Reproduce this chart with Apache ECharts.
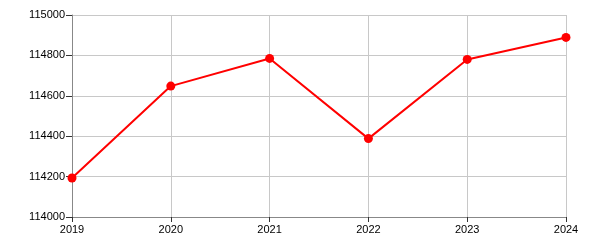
<!DOCTYPE html>
<html><head><meta charset="utf-8">
<script src="https://cdn.jsdelivr.net/npm/echarts@6/dist/echarts.min.js"></script>
<style>html,body{margin:0;padding:0;background:#fff}#c{width:600px;height:250px}</style>
</head><body><div id="c"></div>
<script>
const categories = ['2019','2020','2021','2022','2023','2024'];
const values = [114193, 114648, 114785, 114388, 114780, 114889];
const yTicks = [114000, 114200, 114400, 114600, 114800, 115000];

const chart = echarts.init(document.getElementById('c'), null, {renderer:'canvas'});
chart.setOption({
  animation:false,
  grid:{left:72, right:34, top:15, bottom:33, containLabel:false},
  xAxis:{
    type:'category', data:categories, boundaryGap:false,
    axisLine:{lineStyle:{color:'#888', width:1}},
    axisTick:{show:true, length:5, lineStyle:{color:'#333'}, alignWithLabel:true},
    axisLabel:{color:'#000', fontFamily:'Liberation Sans, Arial', fontSize:11, margin:7},
    splitLine:{show:true, lineStyle:{color:'#c8c8c8', width:1}}
  },
  yAxis:{
    type:'value', min:yTicks[0], max:yTicks[yTicks.length-1], interval:200,
    axisLine:{show:true, lineStyle:{color:'#888', width:1}},
    axisTick:{show:true, length:6, lineStyle:{color:'#333'}},
    axisLabel:{color:'#000', fontFamily:'Liberation Sans, Arial', fontSize:11, margin:7,
      formatter: v => String(v)},
    splitLine:{show:true, lineStyle:{color:'#c8c8c8', width:1}}
  },
  series:[{
    type:'line', data:values, symbol:'circle', symbolSize:9,
    lineStyle:{color:'#ff0000', width:2},
    itemStyle:{color:'#ff0000'}
  }]
});
</script></body></html>
